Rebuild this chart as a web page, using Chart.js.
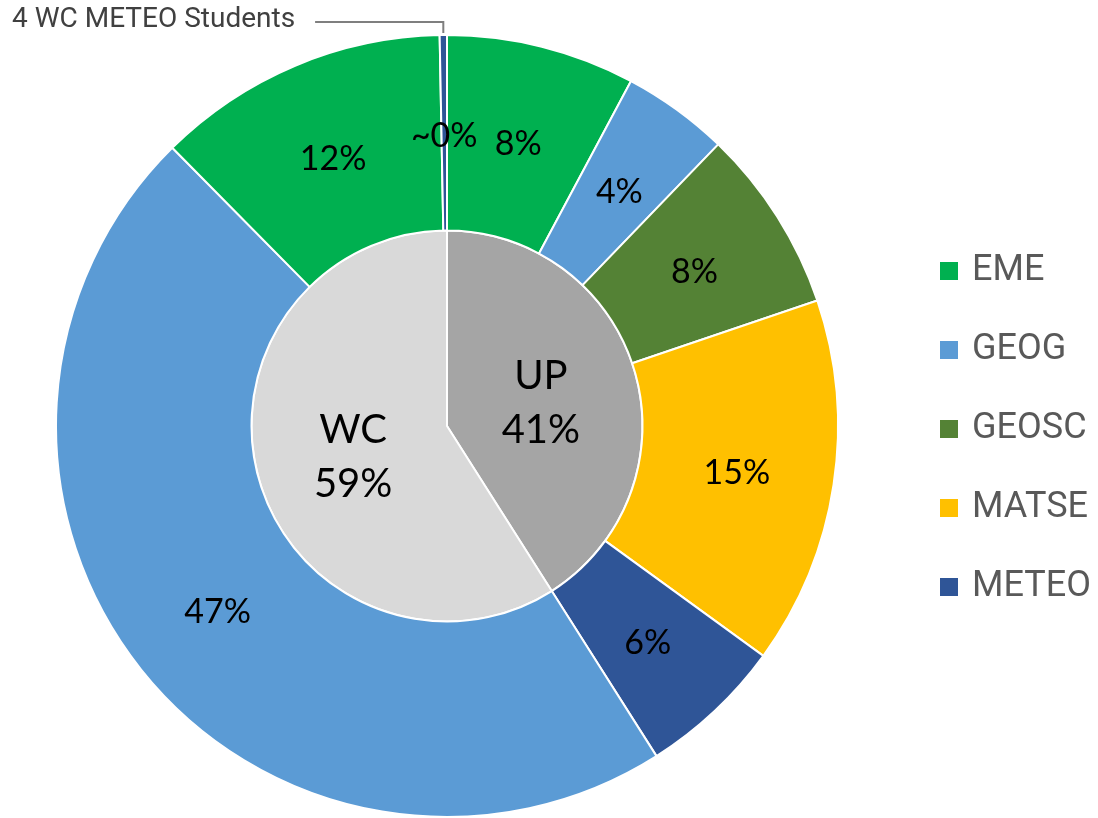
<!DOCTYPE html>
<html>
<head>
<meta charset="utf-8">
<script src="https://cdn.jsdelivr.net/npm/chart.js@4"></script>
<style>
  body { margin: 0; background: #fff; }
  #wrap { position: relative; width: 1098px; height: 818px; }
  #legend { position: absolute; left: 940px; top: 247px; font-family: Roboto, sans-serif; font-size: 36px; color: #595959; }
  #legend div { height: 79px; display: flex; align-items: flex-start; }
  #legend span.box { display: inline-block; width: 18px; height: 18px; margin: 15px 14px 0 0; }
</style>
</head>
<body>
<div id="wrap">
  <canvas id="grafico" width="1098" height="818"></canvas>
  <div id="legend"></div>
</div>
<script>
// departments and their colours (legend)
var departments = ['EME', 'GEOG', 'GEOSC', 'MATSE', 'METEO'];
var deptColors = ['#00B050', '#5B9BD5', '#548235', '#FFC000', '#2F5597'];

// inner pie: campus share (%)
var campuses = ['UP', 'WC'];
var campusShares = [41, 59];
var campusColors = ['#A5A5A5', '#D9D9D9'];

// outer ring: department share (%) per campus, clockwise from the top
var ringCampus = ['UP', 'UP', 'UP', 'UP', 'UP', 'WC', 'WC', 'WC'];
var ringDepts = ['EME', 'GEOG', 'GEOSC', 'MATSE', 'METEO', 'GEOG', 'EME', 'METEO'];
var ringShares = [7.8, 4.4, 7.6, 15.2, 6.0, 46.6, 12.1, 0.3];

var calloutText = '4 WC METEO Students';

function pct(v) {
    var r = Math.round(v);
    return r === 0 ? '~0%' : r + '%';
}

var etiquetas = {
    id: 'etiquetas',
    afterDatasetsDraw: function (chart) {
        var ctx = chart.ctx;
        ctx.save();
        ctx.textAlign = 'center';
        ctx.textBaseline = 'middle';
        ctx.fillStyle = '#000';

        // outer ring labels
        var outer = chart.getDatasetMeta(0).data;
        ctx.font = '34px Lato, sans-serif';
        outer.forEach(function (arc, i) {
            var p = arc.tooltipPosition();
            ctx.fillText(pct(ringShares[i]), p.x, p.y + 3);
        });

        // inner pie labels
        var inner = chart.getDatasetMeta(1).data;
        ctx.font = '40px Lato, sans-serif';
        inner.forEach(function (arc, i) {
            var p = arc.tooltipPosition();
            ctx.fillText(campuses[i], p.x, p.y - 23);
            ctx.fillText(campusShares[i] + '%', p.x, p.y + 31);
        });

        // callout for the tiny WC METEO slice
        var sliver = outer[outer.length - 1];
        var mid = (sliver.startAngle + sliver.endAngle) / 2;
        var tx = sliver.x + sliver.outerRadius * Math.cos(mid);
        var ty = sliver.y + sliver.outerRadius * Math.sin(mid);
        ctx.font = '28px Roboto, sans-serif';
        ctx.fillStyle = '#404040';
        ctx.textAlign = 'left';
        ctx.fillText(calloutText, 12, 20);
        var endText = 12 + ctx.measureText(calloutText).width + 20;
        ctx.strokeStyle = '#7F7F7F';
        ctx.lineWidth = 2;
        ctx.beginPath();
        ctx.moveTo(endText, 22);
        ctx.lineTo(tx, 22);
        ctx.lineTo(tx, ty - 2);
        ctx.stroke();
        ctx.restore();
    }
};

document.addEventListener('DOMContentLoaded', function () {
    var ringColors = ringDepts.map(function (d) { return deptColors[departments.indexOf(d)]; });
    var ctx = document.getElementById('grafico').getContext('2d');
    new Chart(ctx, {
        type: 'doughnut',
        data: {
            labels: ringDepts.map(function (d, i) { return ringCampus[i] + ' ' + d; }),
            datasets: [{
                data: ringShares,
                backgroundColor: ringColors,
                borderColor: '#fff',
                borderWidth: 2
            }, {
                data: campusShares,
                backgroundColor: campusColors,
                borderColor: '#fff',
                borderWidth: 2
            }]
        },
        options: {
            responsive: false,
            animation: false,
            cutout: 0,
            layout: { padding: { top: 34, bottom: -3, left: 0, right: 204 } },
            plugins: {
                legend: { display: false },
                tooltip: { enabled: false }
            }
        },
        plugins: [etiquetas]
    });

    var legend = document.getElementById('legend');
    departments.forEach(function (d, i) {
        var row = document.createElement('div');
        var box = document.createElement('span');
        box.className = 'box';
        box.style.background = deptColors[i];
        row.appendChild(box);
        row.appendChild(document.createTextNode(d));
        legend.appendChild(row);
    });
});
</script>
</body>
</html>
